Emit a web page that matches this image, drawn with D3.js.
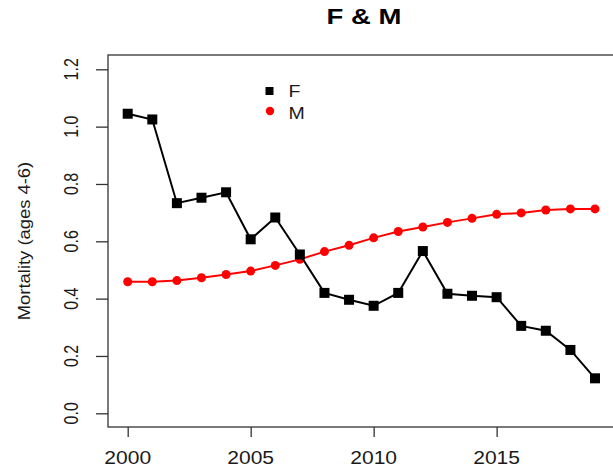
<!DOCTYPE html>
<html><head><meta charset="utf-8">
<script src="https://cdn.jsdelivr.net/npm/d3@7"></script>
<style>body{margin:0;background:#fff}svg{display:block;font-family:"Liberation Sans",Arial,sans-serif}</style>
</head><body><svg id="c" width="613" height="469"></svg>
<script>
const years = d3.range(2000, 2020);
const fValues = [1.045,1.025,0.733,0.752,0.771,0.607,0.683,0.554,0.420,0.396,0.375,0.420,0.566,0.417,0.410,0.405,0.305,0.288,0.221,0.122];
const mValues = [0.459,0.459,0.463,0.473,0.484,0.496,0.516,0.537,0.564,0.586,0.612,0.634,0.650,0.666,0.680,0.694,0.699,0.709,0.713,0.713];
const yTicks = [0,0.2,0.4,0.6,0.8,1.0,1.2];
const xTicks = [2000,2005,2010,2015];
const seriesNames = ["F","M"];
const titleText = "F & M";
const yTitle = "Mortality (ages 4-6)";

const svg = d3.select("#c");
const x = d3.scaleLinear().domain([2000,2019]).range([127.7,595]);
const y = d3.scaleLinear().domain([0,1.2]).range([413.3,69.3]);
const box = {l:108, t:55, r:614, b:427};
const txt = "#1a1a1a";

svg.append("rect").attr("x",box.l).attr("y",box.t).attr("width",box.r-box.l).attr("height",box.b-box.t)
  .attr("fill","none").attr("stroke","#333").attr("stroke-width",1.3);

// y axis
const ya = svg.append("g").attr("transform",`translate(${box.l},0)`)
  .call(d3.axisLeft(y).tickValues(yTicks).tickSize(12).tickFormat(""));
ya.select(".domain").remove();
ya.selectAll("line").attr("stroke","#333").attr("stroke-width",1.3);
svg.append("g").selectAll("text").data(yTicks).enter().append("text")
  .attr("transform", d=>`translate(71,${y(d)}) rotate(-90) scale(1,1.3)`)
  .attr("text-anchor","middle").attr("dy","0.35em").attr("font-size",16).attr("fill",txt)
  .text(d3.format(".1f"));

// x axis
const xa = svg.append("g").attr("transform",`translate(0,${box.b})`)
  .call(d3.axisBottom(x).tickValues(xTicks).tickSize(10).tickFormat(""));
xa.select(".domain").remove();
xa.selectAll("line").attr("stroke","#333").attr("stroke-width",1.3);
svg.append("g").selectAll("text").data(xTicks).enter().append("text")
  .attr("transform", d=>`translate(${x(d)},464.3) scale(1.17,1)`)
  .attr("text-anchor","middle").attr("font-size",18).attr("fill",txt)
  .text(d3.format("d"));

// y title
svg.append("text").attr("transform","translate(24,241) rotate(-90) scale(1.15,1)").attr("text-anchor","middle")
  .attr("dy","0.35em").attr("font-size",16).attr("fill",txt).text(yTitle);
// title
svg.append("text").attr("transform","translate(364,24) scale(1.25,1)").attr("text-anchor","middle")
  .attr("font-size",22).attr("font-weight","bold").attr("fill","#000").text(titleText);

const line = d3.line();
const mPts = years.map((yr,i)=>[x(yr),y(mValues[i])]);
const fPts = years.map((yr,i)=>[x(yr),y(fValues[i])]);

svg.append("path").attr("d",line(mPts)).attr("fill","none").attr("stroke","#ff0000").attr("stroke-width",2);
svg.selectAll(".m").data(mPts).enter().append("circle").attr("cx",d=>d[0]).attr("cy",d=>d[1]).attr("r",4.5).attr("fill","#ff0000");

svg.append("path").attr("d",line(fPts)).attr("fill","none").attr("stroke","#000").attr("stroke-width",2);
svg.selectAll(".f").data(fPts).enter().append("rect").attr("x",d=>d[0]-5).attr("y",d=>d[1]-5).attr("width",10).attr("height",10).attr("fill","#000");

// legend
svg.append("rect").attr("x",265.5).attr("y",87).attr("width",8).attr("height",8).attr("fill","#000");
svg.append("circle").attr("cx",270).attr("cy",111).attr("r",4.2).attr("fill","#ff0000");
svg.append("g").selectAll("text").data(seriesNames).enter().append("text")
  .attr("transform",(d,i)=>`translate(288.5,${96.7+i*22.3}) scale(1.15,1)`)
  .attr("font-size",17).attr("fill",txt).text(d=>d);
</script></body></html>
